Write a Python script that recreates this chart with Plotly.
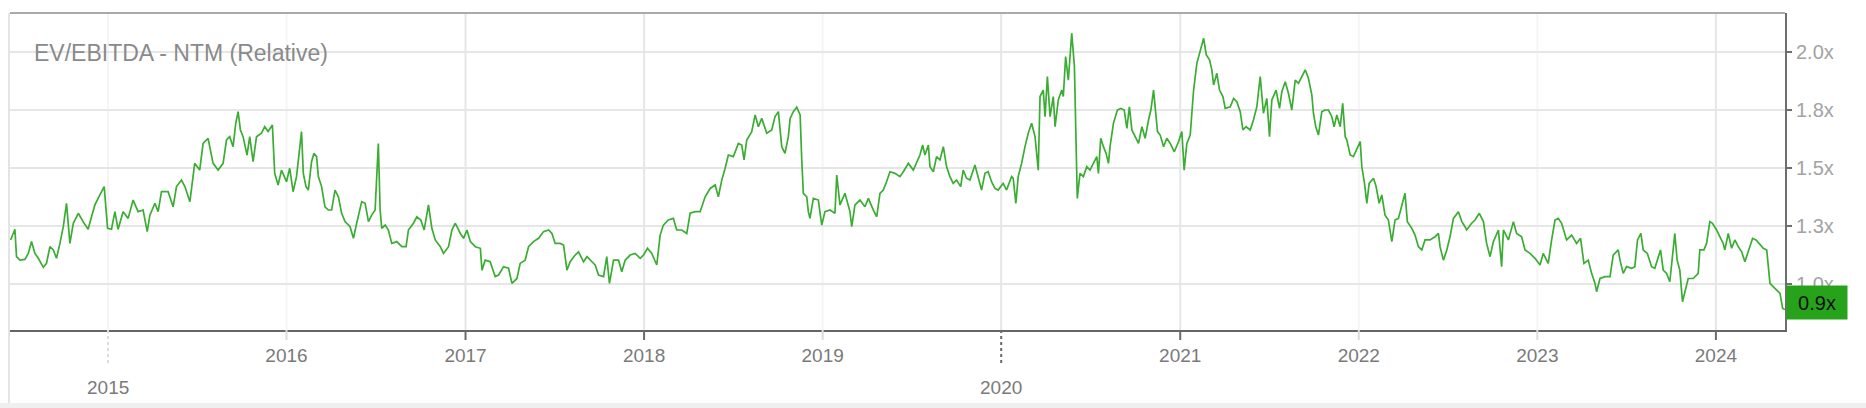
import datetime as dt
import plotly.graph_objects as go

# ---------------- data (decimal year, EV/EBITDA NTM relative multiple) ----------------
seg1_t = [2014.455, 2014.479, 2014.488, 2014.507, 2014.535, 2014.554, 2014.572, 2014.591, 2014.610, 2014.638,
          2014.656, 2014.675, 2014.694, 2014.712, 2014.731, 2014.750, 2014.768, 2014.787, 2014.806, 2014.834,
          2014.861, 2014.889, 2014.908, 2014.927, 2014.955, 2014.979, 2014.998,
          2015.020, 2015.039, 2015.057, 2015.085, 2015.113, 2015.141, 2015.169, 2015.197, 2015.220, 2015.235,
          2015.263, 2015.281, 2015.300, 2015.337, 2015.365, 2015.384, 2015.412, 2015.431, 2015.459, 2015.486,
          2015.514, 2015.533, 2015.561, 2015.570, 2015.589, 2015.617, 2015.645, 2015.664, 2015.682, 2015.701,
          2015.716, 2015.729, 2015.742, 2015.757, 2015.779, 2015.794, 2015.813, 2015.832, 2015.860, 2015.878,
          2015.897, 2015.921, 2015.934, 2015.953, 2015.972,
          2016.000, 2016.018, 2016.037, 2016.056, 2016.084]
seg1_v = [1.190, 1.236, 1.118, 1.103, 1.106, 1.132, 1.183, 1.132, 1.111, 1.072,
          1.089, 1.161, 1.147, 1.111, 1.175, 1.247, 1.348, 1.175, 1.262, 1.305,
          1.269, 1.236, 1.290, 1.341, 1.384, 1.420, 1.240,
          1.236, 1.312, 1.236, 1.312, 1.283, 1.362, 1.312, 1.319, 1.226, 1.297,
          1.348, 1.312, 1.398, 1.398, 1.333, 1.420, 1.448, 1.420, 1.355, 1.520,
          1.491, 1.606, 1.628, 1.592, 1.520, 1.491, 1.520, 1.621, 1.635, 1.592,
          1.693, 1.743, 1.664, 1.635, 1.556, 1.635, 1.527, 1.635, 1.650, 1.678,
          1.657, 1.685, 1.477, 1.427, 1.491,
          1.441, 1.499, 1.398, 1.463, 1.657]

seg2_t = [2016.094, 2016.109, 2016.122, 2016.140, 2016.153, 2016.168, 2016.178, 2016.196, 2016.215, 2016.234,
          2016.252, 2016.271, 2016.290, 2016.308, 2016.327, 2016.355, 2016.374, 2016.392, 2016.420, 2016.439,
          2016.458, 2016.476, 2016.495, 2016.513, 2016.523, 2016.532, 2016.551, 2016.569, 2016.588, 2016.616,
          2016.644, 2016.668, 2016.681, 2016.709, 2016.728, 2016.750, 2016.769, 2016.793, 2016.812, 2016.831,
          2016.859, 2016.877, 2016.905, 2016.924, 2016.943, 2016.971, 2016.989,
          2017.008, 2017.027, 2017.055, 2017.083, 2017.092, 2017.110, 2017.138, 2017.166, 2017.185, 2017.213,
          2017.241, 2017.260, 2017.288, 2017.306, 2017.334, 2017.353, 2017.381, 2017.409, 2017.437, 2017.465,
          2017.484, 2017.502, 2017.530, 2017.549, 2017.568, 2017.586, 2017.614, 2017.633, 2017.661, 2017.680,
          2017.708, 2017.726, 2017.745]
seg2_v = [1.477, 1.420, 1.405, 1.527, 1.563, 1.549, 1.463, 1.420, 1.333, 1.319,
          1.319, 1.405, 1.376, 1.305, 1.269, 1.247, 1.197, 1.262, 1.355, 1.348,
          1.269, 1.297, 1.319, 1.606, 1.319, 1.240, 1.254, 1.233, 1.175, 1.183,
          1.161, 1.161, 1.233, 1.262, 1.290, 1.276, 1.233, 1.341, 1.240, 1.190,
          1.161, 1.132, 1.161, 1.233, 1.262, 1.218, 1.197,
          1.233, 1.183, 1.161, 1.154, 1.060, 1.103, 1.096, 1.032, 1.039, 1.075,
          1.068, 1.003, 1.024, 1.089, 1.103, 1.161, 1.183, 1.197, 1.226, 1.233,
          1.218, 1.175, 1.175, 1.168, 1.060, 1.096, 1.125, 1.139, 1.096, 1.118,
          1.096, 1.082, 1.039]

seg3_t = [2017.773, 2017.791, 2017.806, 2017.829, 2017.857, 2017.875, 2017.894, 2017.922, 2017.950, 2017.978,
          2017.997,
          2018.019, 2018.043, 2018.071, 2018.090, 2018.108, 2018.136, 2018.164, 2018.183, 2018.211,
          2018.239, 2018.258, 2018.286, 2018.314, 2018.342, 2018.370, 2018.398, 2018.416, 2018.435, 2018.454,
          2018.472, 2018.500, 2018.528, 2018.547, 2018.560, 2018.575, 2018.603, 2018.622, 2018.640, 2018.659,
          2018.677, 2018.687, 2018.715, 2018.733, 2018.752, 2018.771, 2018.789, 2018.808, 2018.818, 2018.836,
          2018.855, 2018.874, 2018.883, 2018.892, 2018.911, 2018.920, 2018.929, 2018.948, 2018.976, 2018.995,
          2019.013, 2019.041, 2019.069, 2019.079, 2019.097, 2019.125, 2019.153, 2019.163, 2019.181, 2019.209,
          2019.237, 2019.256, 2019.284, 2019.303, 2019.321]
seg3_v = [1.032, 1.118, 1.003, 1.103, 1.103, 1.053, 1.103, 1.125, 1.132, 1.111,
          1.125,
          1.154, 1.132, 1.082, 1.211, 1.254, 1.276, 1.283, 1.233, 1.233,
          1.218, 1.305, 1.312, 1.312, 1.376, 1.412, 1.427, 1.376, 1.448, 1.499,
          1.556, 1.549, 1.606, 1.599, 1.535, 1.621, 1.657, 1.729, 1.678, 1.714,
          1.678, 1.650, 1.664, 1.721, 1.743, 1.592, 1.563, 1.635, 1.714, 1.743,
          1.762, 1.729, 1.535, 1.391, 1.376, 1.312, 1.283, 1.369, 1.362, 1.254,
          1.312, 1.319, 1.305, 1.470, 1.341, 1.391, 1.312, 1.247, 1.341, 1.362,
          1.333, 1.369, 1.319, 1.290, 1.391]

seg4_t = [2019.340, 2019.358, 2019.377, 2019.405, 2019.433, 2019.452, 2019.480, 2019.508, 2019.526, 2019.545,
          2019.560, 2019.573, 2019.592, 2019.601, 2019.620, 2019.638, 2019.657, 2019.676, 2019.694, 2019.713,
          2019.731, 2019.750, 2019.773, 2019.787, 2019.806, 2019.825, 2019.853, 2019.871, 2019.890, 2019.909,
          2019.927, 2019.946, 2019.965, 2019.983,
          2020.011, 2020.030, 2020.058, 2020.067, 2020.082, 2020.095,
          2020.114, 2020.133, 2020.151, 2020.170, 2020.189, 2020.207, 2020.217, 2020.235, 2020.245, 2020.258,
          2020.273, 2020.291, 2020.301, 2020.319, 2020.338, 2020.347, 2020.360, 2020.375, 2020.394, 2020.409,
          2020.418, 2020.425, 2020.440, 2020.459, 2020.478, 2020.496, 2020.515, 2020.534, 2020.543, 2020.556,
          2020.571, 2020.586, 2020.599, 2020.608, 2020.627, 2020.649, 2020.668, 2020.687, 2020.702, 2020.716,
          2020.730, 2020.748, 2020.767, 2020.786, 2020.804, 2020.823, 2020.836, 2020.851, 2020.860, 2020.873,
          2020.888, 2020.907, 2020.925, 2020.944]
seg4_v = [1.405, 1.441, 1.484, 1.477, 1.463, 1.484, 1.520, 1.491, 1.520, 1.556,
          1.599, 1.556, 1.599, 1.506, 1.484, 1.549, 1.535, 1.592, 1.506, 1.463,
          1.434, 1.448, 1.420, 1.491, 1.456, 1.448, 1.513, 1.463, 1.405, 1.477,
          1.484, 1.441, 1.412, 1.405,
          1.434, 1.405, 1.463, 1.456, 1.348, 1.463,
          1.520, 1.592, 1.650, 1.693, 1.635, 1.491, 1.808, 1.836, 1.721, 1.894,
          1.721, 1.808, 1.678, 1.793, 1.836, 1.808, 1.980, 1.879, 2.081, 1.937,
          1.563, 1.369, 1.477, 1.463, 1.506, 1.491, 1.520, 1.549, 1.477, 1.628,
          1.592, 1.563, 1.520, 1.592, 1.693, 1.750, 1.757, 1.750, 1.671, 1.764,
          1.664, 1.635, 1.606, 1.678, 1.628, 1.707, 1.750, 1.836, 1.750, 1.657,
          1.642, 1.592, 1.628, 1.606]

seg5_t = [2020.967, 2020.991,
          2021.009, 2021.022, 2021.037, 2021.056, 2021.065, 2021.075, 2021.093, 2021.112,
          2021.131, 2021.146, 2021.164, 2021.177, 2021.187, 2021.205, 2021.220, 2021.239, 2021.252, 2021.280,
          2021.299, 2021.317, 2021.336, 2021.351, 2021.369, 2021.392, 2021.410, 2021.429, 2021.448, 2021.466,
          2021.485, 2021.500, 2021.513, 2021.537, 2021.556, 2021.569, 2021.588, 2021.606, 2021.625, 2021.644,
          2021.662, 2021.681, 2021.700, 2021.718, 2021.737, 2021.746, 2021.759, 2021.774, 2021.793, 2021.811,
          2021.830, 2021.849, 2021.862, 2021.877, 2021.896, 2021.910, 2021.924, 2021.933, 2021.952, 2021.970,
          2021.989,
          2022.008, 2022.017, 2022.032, 2022.045, 2022.058, 2022.082, 2022.097, 2022.114, 2022.129,
          2022.147, 2022.166, 2022.185, 2022.203, 2022.222, 2022.241, 2022.259, 2022.272, 2022.297, 2022.315,
          2022.334, 2022.353, 2022.371, 2022.399, 2022.427, 2022.446, 2022.455, 2022.474, 2022.493, 2022.511,
          2022.530, 2022.558, 2022.577, 2022.595]
seg5_v = [1.570, 1.614,
          1.657, 1.491, 1.606, 1.642, 1.736, 1.836, 1.951, 2.009,
          2.059, 1.987, 1.966, 1.923, 1.858, 1.908, 1.836, 1.808, 1.757, 1.764,
          1.800, 1.786, 1.743, 1.664, 1.678, 1.664, 1.707, 1.764, 1.894, 1.736,
          1.800, 1.635, 1.793, 1.836, 1.757, 1.829, 1.872, 1.822, 1.750, 1.879,
          1.865, 1.894, 1.923, 1.887, 1.815, 1.736, 1.678, 1.642, 1.743, 1.750,
          1.750, 1.721, 1.678, 1.729, 1.678, 1.779, 1.635, 1.621, 1.556, 1.549,
          1.578,
          1.614, 1.506, 1.434, 1.348, 1.434, 1.456, 1.420, 1.348, 1.384,
          1.297, 1.276, 1.183, 1.276, 1.283, 1.341, 1.391, 1.269, 1.240, 1.211,
          1.161, 1.147, 1.190, 1.190, 1.204, 1.218, 1.161, 1.103, 1.147, 1.204,
          1.283, 1.312, 1.269, 1.247]

seg6_t = [2022.604, 2022.632, 2022.651, 2022.675, 2022.698, 2022.716, 2022.735, 2022.754, 2022.782, 2022.800,
          2022.810, 2022.838, 2022.866, 2022.884, 2022.912, 2022.931, 2022.959, 2022.987,
          2023.015, 2023.033,
          2023.061, 2023.080, 2023.099, 2023.117, 2023.136, 2023.164, 2023.192, 2023.220, 2023.242, 2023.261,
          2023.285, 2023.304, 2023.323, 2023.332, 2023.351, 2023.379, 2023.407, 2023.425, 2023.453, 2023.463,
          2023.481, 2023.500, 2023.528, 2023.546, 2023.561, 2023.580, 2023.593, 2023.616, 2023.640, 2023.658,
          2023.677, 2023.690, 2023.705, 2023.724, 2023.742, 2023.761, 2023.770, 2023.783, 2023.798, 2023.813,
          2023.826, 2023.845, 2023.873, 2023.901, 2023.910, 2023.933, 2023.948, 2023.966, 2023.981,
          2024.004,
          2024.022, 2024.041, 2024.050, 2024.069, 2024.088, 2024.106, 2024.125, 2024.144, 2024.162, 2024.181,
          2024.205, 2024.224, 2024.242, 2024.265, 2024.284, 2024.302, 2024.330, 2024.358, 2024.373, 2024.386]
seg6_v = [1.233, 1.262, 1.276, 1.305, 1.269, 1.175, 1.118, 1.183, 1.233, 1.075,
          1.233, 1.190, 1.269, 1.218, 1.204, 1.147, 1.132, 1.111,
          1.082, 1.132,
          1.089, 1.190, 1.276, 1.283, 1.262, 1.190, 1.211, 1.175, 1.197, 1.089,
          1.103, 1.046, 1.003, 0.967, 1.024, 1.032, 1.032, 1.125, 1.147, 1.103,
          1.046, 1.075, 1.068, 1.075, 1.190, 1.218, 1.147, 1.132, 1.075, 1.068,
          1.118, 1.147, 1.060, 1.046, 1.010, 1.139, 1.218, 1.103, 1.060, 0.924,
          0.960, 1.024, 1.024, 1.046, 1.147, 1.147, 1.175, 1.269, 1.262,
          1.233,
          1.204, 1.175, 1.147, 1.218, 1.154, 1.190, 1.161, 1.139, 1.096, 1.139,
          1.197, 1.190, 1.175, 1.154, 1.147, 1.003, 0.981, 0.960, 0.895, 0.890]

x_range_years = [2014.4515, 2024.386]
year_ticks = [2015, 2016, 2017, 2018, 2019, 2020, 2021, 2022, 2023, 2024]
lower_row_years = [2015, 2020]
y_tickvals = [1.0, 1.25, 1.5, 1.75, 2.0]
y_ticktext = ["1.0x", "1.3x", "1.5x", "1.8x", "2.0x"]
title_text = "EV/EBITDA - NTM (Relative)"

# ---------------- helpers ----------------
def to_date(t):
    y = int(t)
    start = dt.datetime(y, 1, 1)
    days = (dt.datetime(y + 1, 1, 1) - start).days
    return start + dt.timedelta(days=(t - y) * days)

all_t, all_v = [], []
for ts, vs in [(seg1_t, seg1_v), (seg2_t, seg2_v), (seg3_t, seg3_v),
               (seg4_t, seg4_v), (seg5_t, seg5_v), (seg6_t, seg6_v)]:
    assert len(ts) == len(vs)
    all_t += ts
    all_v += vs
dates = [to_date(t) for t in all_t]

# ---------------- figure ----------------
W, H = 1866, 408
ML, MR, MT, MB = 10, 81, 13, 78
PW = W - ML - MR
PH = H - MT - MB

FONT = "Liberation Sans, Arial, sans-serif"
GREEN = "#3aad32"

fig = go.Figure()
fig.add_trace(go.Scatter(x=dates, y=all_v, mode="lines",
                         line=dict(color=GREEN, width=1.7), hoverinfo="skip"))

shapes = []
strong = {2017, 2018, 2020, 2021, 2024}
for yr in year_ticks:
    xd = dt.datetime(yr, 1, 1)
    gcol = "#e6e6e6" if yr in strong else "#f5f5f5"
    tcol = "#6a6a6a" if yr in strong else "#dcdcdc"
    shapes.append(dict(type="line", xref="x", yref="paper", x0=xd, x1=xd, y0=0, y1=1,
                       line=dict(color=gcol, width=2), layer="below"))
    if yr in lower_row_years:
        shapes.append(dict(type="line", xref="x", yref="paper", x0=xd, x1=xd,
                           y0=0, y1=-36 / PH, line=dict(color=tcol, width=2, dash="3px,3px")))
    else:
        shapes.append(dict(type="line", xref="x", yref="paper", x0=xd, x1=xd,
                           y0=0, y1=-10 / PH, line=dict(color=tcol, width=2)))

# frame lines
shapes.append(dict(type="line", xref="paper", yref="paper", x0=0, x1=1, y0=1, y1=1,
                   line=dict(color="#a9a9a9", width=2)))
shapes.append(dict(type="line", xref="paper", yref="paper", x0=-1 / PW, x1=-1 / PW,
                   y0=1, y1=-(MB - 4) / PH,
                   line=dict(color="#e4e4e4", width=2)))
shapes.append(dict(type="rect", xref="paper", yref="paper", x0=-ML / PW, x1=(W - ML) / PW,
                   y0=-(MB - 5) / PH, y1=-MB / PH, line=dict(width=0), fillcolor="#efefef"))

annotations = [
    dict(text=title_text, xref="paper", yref="paper", x=22 / PW, y=(PH - 40) / PH,
         xanchor="left", yanchor="middle", showarrow=False,
         font=dict(family=FONT, size=23, color="#8a8a8a")),
]
for yr in lower_row_years:
    annotations.append(dict(text=str(yr), xref="x", yref="paper", x=dt.datetime(yr, 1, 1),
                            y=-57 / PH, xanchor="center", yanchor="middle", showarrow=False,
                            font=dict(family=FONT, size=19, color="#7a7a7a")))
annotations.append(dict(text=f"{all_v[-1]:.1f}x", xref="paper", yref="y", x=1, y=all_v[-1],
                        xanchor="left", yanchor="middle", xshift=1, yshift=7, showarrow=False,
                        bgcolor="#26a31b", width=56, height=29, borderpad=2,
                        font=dict(family=FONT, size=20, color="#111111")))

fig.update_layout(
    width=W, height=H,
    margin=dict(l=ML, r=MR, t=MT, b=MB, pad=0),
    paper_bgcolor="white", plot_bgcolor="white",
    showlegend=False,
    shapes=shapes, annotations=annotations,
    xaxis=dict(type="date", range=[to_date(x_range_years[0]), to_date(x_range_years[1])],
               showgrid=False, zeroline=False, showline=True, linecolor="#666666", linewidth=2,
               tickvals=[dt.datetime(y, 1, 1) for y in year_ticks],
               ticktext=["" if y in lower_row_years else str(y) for y in year_ticks],
               ticks="outside", ticklen=7, tickcolor="rgba(0,0,0,0)",
               tickfont=dict(family=FONT, size=19, color="#7a7a7a")),
    yaxis=dict(side="right", range=[0.802, 2.168], tickvals=y_tickvals, ticktext=y_ticktext,
               showgrid=True, gridcolor="#e6e6e6", gridwidth=2, zeroline=False,
               showline=True, linecolor="#6e6e6e", linewidth=2,
               ticks="outside", ticklen=5, tickwidth=2, tickcolor="#6e6e6e",
               tickfont=dict(family=FONT, size=20, color="#a3a3a3")),
)

fig.write_html("out.html", config={"displayModeBar": False},
               post_script="document.body.style.margin='0';document.body.style.overflow='hidden';")
